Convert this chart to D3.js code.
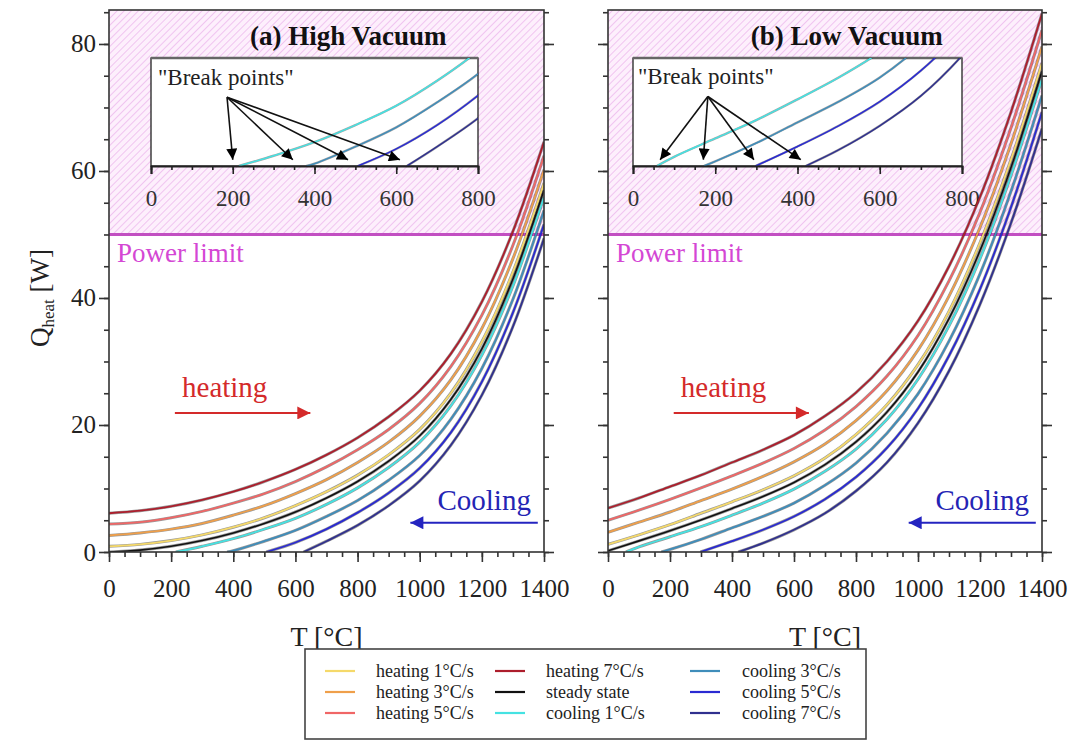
<!DOCTYPE html>
<html><head><meta charset="utf-8">
<script src="https://cdn.jsdelivr.net/npm/d3@7"></script>
<style>
body{margin:0;background:#fff}
text{font-family:"Liberation Serif","Times New Roman",serif}
</style>
</head><body>
<svg id="c" width="1073" height="742"></svg>
<script>
// ---------------- data ----------------
const temps = [0,100,200,300,400,500,600,700,800,900,1000,1100,1200,1300,1400];
const seriesNames = ["heating 1°C/s","heating 3°C/s","heating 5°C/s","heating 7°C/s","steady state","cooling 1°C/s","cooling 3°C/s","cooling 5°C/s","cooling 7°C/s"];
const seriesColors = ["#f5d96a","#ef9f4a","#f06666","#ad1e2c","#111111","#45e2e2","#3f8dba","#2a2ad2","#30308e"];

// (a) High Vacuum, Q_heat [W]
const hvHeat1  = [0.9,1.2,1.8,2.7,3.9,5.4,7.3,9.5,12.1,15.3,19.3,25.0,33.1,44.1,58.1];
const hvHeat3  = [2.6,3.0,3.6,4.5,5.8,7.3,9.2,11.4,14.1,17.3,21.4,27.1,35.2,46.2,60.2];
const hvHeat5  = [4.4,4.7,5.4,6.4,7.7,9.2,11.1,13.4,16.1,19.3,23.4,29.2,37.3,48.3,62.4];
const hvHeat7  = [6.1,6.5,7.2,8.2,9.5,11.1,13.0,15.3,18.0,21.3,25.4,31.2,39.4,50.5,64.6];
const hvSteady = [0,0.3,0.9,1.8,3.0,4.5,6.3,8.5,11.1,14.3,18.3,24.0,32.0,43.0,57.0];
const hvCool1  = [null,null,null,0.9,2.1,3.6,5.3,7.5,10.1,13.3,17.3,23.0,31.0,41.9,55.9];
const hvCool3  = [null,null,null,null,0.2,1.7,3.4,5.6,8.1,11.3,15.2,20.9,28.9,39.8,53.8];
const hvCool5  = [null,null,null,null,null,null,1.5,3.6,6.2,9.3,13.2,18.8,26.8,37.7,51.6];
const hvCool7  = [null,null,null,null,null,null,null,1.7,4.2,7.3,11.2,16.8,24.7,35.5,49.4];
const hvBreaks = [215,380,506,626];          // cooling 1,3,5,7 zero crossings
const hvArrowTips = [200,347,482,609];

// (b) Low Vacuum, Q_heat [W]
const lvHeat1  = [1.2,2.7,4.3,6.1,7.9,9.8,12.0,14.8,18.5,23.2,29.5,37.9,48.7,61.8,77.0];
const lvHeat3  = [3.1,4.7,6.3,8.1,9.9,11.9,14.2,17.0,20.7,25.4,31.8,40.3,51.1,64.3,79.6];
const lvHeat5  = [5.0,6.6,8.3,10.1,12.0,14.0,16.3,19.2,22.9,27.7,34.1,42.7,53.5,66.8,82.2];
const lvHeat7  = [6.9,8.5,10.3,12.1,14.1,16.1,18.4,21.4,25.1,30.0,36.4,45.0,55.9,69.3,84.8];
const lvSteady = [0.2,1.75,3.35,5.05,6.85,8.75,10.95,13.75,17.35,22.05,28.35,36.75,47.45,60.55,75.75];
const lvCool1  = [null,0.8,2.4,4.0,5.8,7.7,9.9,12.7,16.2,20.9,27.2,35.6,46.2,59.3,74.5];
const lvCool3  = [null,null,0.4,2.0,3.8,5.6,7.7,10.5,14.0,18.7,24.9,33.2,43.8,56.8,71.9];
const lvCool5  = [null,null,null,null,1.7,3.5,5.6,8.3,11.8,16.4,22.6,30.9,41.4,54.3,69.3];
const lvCool7  = [null,null,null,null,null,1.4,3.5,6.1,9.6,14.1,20.3,28.5,39.0,51.8,66.7];
const lvBreaks = [58,172,298,420];
const lvArrowTips = [66,171,294,408];

const powerLimit = 50;
const xTicksMain = [0,200,400,600,800,1000,1200,1400];
const yTicksMain = [0,20,40,60,80];
const xTicksInset = [0,200,400,600,800];

// ---------------- layout ----------------
const svg = d3.select("#c");
const defs = svg.append("defs");
const yMain = d3.scaleLinear().domain([0, 85.35]).range([552, 10]);
const curve = d3.curveCatmullRom.alpha(0.5);

const panels = [
  {id:"a", title:"(a) High Vacuum", x:d3.scaleLinear().domain([0,1400]).range([109,544]),
   series:[hvHeat1,hvHeat3,hvHeat5,hvHeat7,hvSteady,hvCool1,hvCool3,hvCool5,hvCool7],
   breaks:hvBreaks, tips:hvArrowTips, ix:[151,478], iyMax:9.5, labels:true},
  {id:"b", title:"(b) Low Vacuum", x:d3.scaleLinear().domain([0,1400]).range([608,1042]),
   series:[lvHeat1,lvHeat3,lvHeat5,lvHeat7,lvSteady,lvCool1,lvCool3,lvCool5,lvCool7],
   breaks:lvBreaks, tips:lvArrowTips, ix:[633,962], iyMax:9.4, labels:false}
];

// hatch pattern
const pat = defs.append("pattern").attr("id","hatch").attr("patternUnits","userSpaceOnUse")
  .attr("width",5).attr("height",5).attr("patternTransform","rotate(45)");
pat.append("rect").attr("width",5).attr("height",5).attr("fill","#fdeffc");
pat.append("line").attr("x1",0).attr("y1",0).attr("x2",0).attr("y2",5)
  .attr("stroke","#e8a8e8").attr("stroke-width",1.2);

function marker(id, color, w, h){
  defs.append("marker").attr("id",id).attr("viewBox","0 0 10 10")
    .attr("refX",10).attr("refY",5).attr("markerUnits","userSpaceOnUse")
    .attr("markerWidth",w).attr("markerHeight",h).attr("orient","auto")
    .append("path").attr("d","M0,0L10,5L0,10z").attr("fill",color);
}
marker("arR","#d42a2a",16,13);
marker("arB","#2424c0",16,13);
marker("arK","#000",12,11);

function seriesPoints(vals, idx, breaks){
  const pts = [];
  if (idx >= 5) pts.push([breaks[idx-5], 0]);
  temps.forEach((t,i)=>{ if (vals[i] !== null) pts.push([t, vals[i]]); });
  return pts;
}

panels.forEach(p=>{
  const g = svg.append("g");
  const x = p.x;
  const [x0,x1] = x.range();
  const [yb,yt] = yMain.range();

  defs.append("clipPath").attr("id","clip"+p.id).append("rect")
    .attr("x",x0).attr("y",yt).attr("width",x1-x0).attr("height",yb-yt);

  // hatched region above power limit
  g.append("rect").attr("x",x0).attr("y",yt).attr("width",x1-x0)
    .attr("height",yMain(powerLimit)-yt).attr("fill","url(#hatch)");

  // inset
  const ix = d3.scaleLinear().domain([0,800]).range(p.ix);
  const iy = d3.scaleLinear().domain([0,p.iyMax]).range([166,58]);
  g.append("rect").attr("x",p.ix[0]).attr("y",58).attr("width",p.ix[1]-p.ix[0]).attr("height",108)
    .attr("fill","#fff").attr("stroke","#222").attr("stroke-width",1.3);
  g.append("line").attr("x1",p.ix[0]).attr("x2",p.ix[1]).attr("y1",58).attr("y2",58)
    .attr("stroke","#666").attr("stroke-width",2.6);
  defs.append("clipPath").attr("id","iclip"+p.id).append("rect")
    .attr("x",p.ix[0]).attr("y",58).attr("width",p.ix[1]-p.ix[0]).attr("height",108);
  const ilineGen = d3.line().x(d=>ix(d[0])).y(d=>iy(d[1])).curve(curve);
  const ig = g.append("g").attr("clip-path","url(#iclip"+p.id+")");
  [5,6,7,8].forEach(k=>{
    const pts = seriesPoints(p.series[k], k, p.breaks);
    ig.append("path").attr("d",ilineGen(pts)).attr("fill","none")
      .attr("stroke","#000").attr("stroke-opacity",0.35).attr("stroke-width",2.4);
    ig.append("path").attr("d",ilineGen(pts)).attr("fill","none")
      .attr("stroke",seriesColors[k]).attr("stroke-width",1.5);
  });
  const iax = g.append("g").attr("transform","translate(0,166)");
  iax.call(d3.axisBottom(ix).tickValues(d3.range(0,801,50)).tickSize(4).tickFormat(""));
  iax.call(g2=>g2.select(".domain").remove());
  const iax2 = g.append("g").attr("transform","translate(0,166)")
    .call(d3.axisBottom(ix).tickValues(xTicksInset).tickSize(8).tickPadding(16).tickFormat(d3.format("d")));
  iax2.select(".domain").attr("stroke","#222").attr("stroke-width",2);
  [iax,iax2].forEach(a=>a.selectAll("line").attr("stroke","#222").attr("stroke-width",1.6));
  iax2.selectAll("text").attr("font-size",23).attr("fill","#333")
    .attr("font-family","'Liberation Serif',serif");
  g.append("text").attr("x",ix(p.id==="a"?17:12)).attr("y",iy(7.1))
    .attr("font-size",23).attr("fill","#222").text('"Break points"');
  const ox = ix(p.id==="a"?186:182), oy = iy(6.05);
  p.tips.forEach(t=>{
    g.append("line").attr("x1",ox).attr("y1",oy).attr("x2",ix(t)).attr("y2",iy(0.55))
      .attr("stroke","#111").attr("stroke-width",1.6).attr("marker-end","url(#arK)");
  });

  // power limit
  g.append("line").attr("x1",x0).attr("x2",x1).attr("y1",yMain(powerLimit)).attr("y2",yMain(powerLimit))
    .attr("stroke","#c24fc2").attr("stroke-width",2.8);
  g.append("text").attr("x",x(26)).attr("y",yMain(45.7)).attr("font-size",27)
    .attr("fill","#d447d4").text("Power limit");

  // curves
  const lineGen = d3.line().x(d=>x(d[0])).y(d=>yMain(d[1])).curve(curve);
  const cg = g.append("g").attr("clip-path","url(#clip"+p.id+")");
  p.series.forEach((vals,k)=>{
    const pts = seriesPoints(vals,k,p.breaks);
    cg.append("path").attr("d",lineGen(pts)).attr("fill","none")
      .attr("stroke","#000").attr("stroke-opacity",0.4).attr("stroke-width",3);
  });
  p.series.forEach((vals,k)=>{
    const pts = seriesPoints(vals,k,p.breaks);
    cg.append("path").attr("d",lineGen(pts)).attr("fill","none")
      .attr("stroke",seriesColors[k]).attr("stroke-width",k===4?1.6:1.8);
  });

  // annotations
  g.append("text").attr("x",x(235)).attr("y",yMain(24.4)).attr("font-size",29)
    .attr("fill","#d42a2a").text("heating");
  g.append("line").attr("x1",x(212)).attr("x2",x(648)).attr("y1",yMain(21.9)).attr("y2",yMain(21.9))
    .attr("stroke","#d42a2a").attr("stroke-width",2).attr("marker-end","url(#arR)");
  g.append("text").attr("x",x(1358)).attr("y",yMain(6.6)).attr("font-size",29)
    .attr("text-anchor","end").attr("fill","#2424b4").text("Cooling");
  g.append("line").attr("x1",x(1380)).attr("x2",x(970)).attr("y1",yMain(4.6)).attr("y2",yMain(4.6))
    .attr("stroke","#2424c0").attr("stroke-width",2).attr("marker-end","url(#arB)");

  g.append("text").attr("x",x(770)).attr("y",yMain(79.9)).attr("text-anchor","middle")
    .attr("font-size",27).attr("font-weight","bold").attr("fill","#111").text(p.title);

  // frame
  g.append("rect").attr("x",x0).attr("y",yt).attr("width",x1-x0).attr("height",yb-yt)
    .attr("fill","none").attr("stroke","#333").attr("stroke-width",1.6);

  // x axis
  const xm = g.append("g").attr("transform",`translate(0,${yb})`)
    .call(d3.axisBottom(x).tickValues(d3.range(0,1401,50)).tickSize(5).tickFormat(""));
  const xM = g.append("g").attr("transform",`translate(0,${yb})`)
    .call(d3.axisBottom(x).tickValues(xTicksMain).tickSize(10).tickPadding(17).tickFormat(d3.format("d")));
  [xm,xM].forEach(a=>{a.select(".domain").remove(); a.selectAll("line").attr("stroke","#333").attr("stroke-width",1.6);});
  xM.selectAll("text").attr("font-size",25).attr("fill","#222").attr("font-family","'Liberation Serif',serif");

  // y axes
  const minorY = d3.range(0,86,5);
  const yl = g.append("g").attr("transform",`translate(${x0},0)`)
    .call(d3.axisLeft(yMain).tickValues(minorY).tickSize(5).tickFormat(""));
  const yL = g.append("g").attr("transform",`translate(${x0},0)`)
    .call(d3.axisLeft(yMain).tickValues(yTicksMain).tickSize(10).tickPadding(3)
      .tickFormat(p.labels ? d3.format("d") : ""));
  const yr = g.append("g").attr("transform",`translate(${x1},0)`)
    .call(d3.axisRight(yMain).tickValues(minorY).tickSize(5).tickFormat(""));
  const yR = g.append("g").attr("transform",`translate(${x1},0)`)
    .call(d3.axisRight(yMain).tickValues(yTicksMain).tickSize(10).tickFormat(""));
  [yl,yL,yr,yR].forEach(a=>{a.select(".domain").remove(); a.selectAll("line").attr("stroke","#333").attr("stroke-width",1.6);});
  yL.selectAll("text").attr("font-size",25).attr("fill","#222").attr("font-family","'Liberation Serif',serif");

  g.append("text").attr("x",(x0+x1)/2).attr("y",646).attr("text-anchor","middle")
    .attr("font-size",28).attr("fill","#222").text("T [°C]");
});

// y title
const ytl = svg.append("text").attr("transform",`translate(49,${yMain(40)}) rotate(-90)`)
  .attr("text-anchor","middle").attr("font-size",27).attr("fill","#222");
ytl.append("tspan").text("Q");
ytl.append("tspan").attr("font-size",17).attr("dy",5).text("heat");
ytl.append("tspan").attr("dy",-5).text(" [W]");

// legend
const lg = svg.append("g");
lg.append("rect").attr("x",305).attr("y",649).attr("width",561).attr("height",90)
  .attr("fill","#fff").attr("stroke","#444").attr("stroke-width",1.6);
const colLineX = [325,495,690];
const colTextX = [376,546,742];
const rowY = [671,692,713];
seriesNames.forEach((name,i)=>{
  const c = Math.floor(i/3), r = i%3;
  lg.append("line").attr("x1",colLineX[c]).attr("x2",colLineX[c]+30)
    .attr("y1",rowY[r]).attr("y2",rowY[r]).attr("stroke",seriesColors[i]).attr("stroke-width",2.2);
  lg.append("text").attr("x",colTextX[c]).attr("y",rowY[r]+6).attr("font-size",18)
    .attr("fill","#222").text(name);
});
</script>
</body></html>
